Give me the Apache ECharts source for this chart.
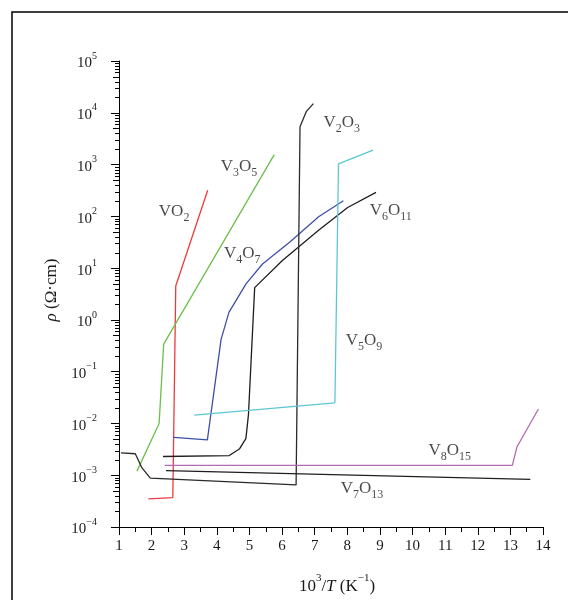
<!DOCTYPE html>
<html>
<head>
<meta charset="utf-8">
<script src="https://cdn.jsdelivr.net/npm/echarts@6/dist/echarts.min.js"></script>
<style>html,body{margin:0;padding:0;background:#fff}#c{width:568px;height:600px}</style>
</head>
<body>
<div id="c"></div>
<script>
// ---- data (x = 10^3/T in K^-1, y = resistivity in Ω·cm) ----
const vo2X   = [1.90, 2.65, 2.74, 3.72];
const vo2Y   = [3.5e-4, 3.7e-4, 4.5, 320];
const v3o5X  = [1.55, 2.23, 2.37, 5.76];
const v3o5Y  = [1.2e-3, 1.0e-2, 0.34, 1550];
const v4o7X  = [2.68, 3.71, 4.13, 4.37, 4.90, 5.40, 6.24, 7.12, 7.88];
const v4o7Y  = [5.4e-3, 4.8e-3, 0.42, 1.4, 5.0, 12, 32, 98, 200];
const v6o11X = [2.35, 4.38, 4.69, 4.89, 4.97, 5.16, 6.01, 7.12, 8.01, 8.88];
const v6o11Y = [2.3e-3, 2.4e-3, 3.2e-3, 5.1e-3, 1.5e-2, 4.2, 14, 54, 148, 290];
const v2o3X  = [1.06, 1.50, 1.70, 1.96, 6.43, 6.55, 6.74, 6.96];
const v2o3Y  = [2.7e-3, 2.6e-3, 1.4e-3, 8.8e-4, 6.5e-4, 5400, 10500, 15000];
const v5o9X  = [3.31, 7.62, 7.73, 8.79];
const v5o9Y  = [1.45e-2, 2.5e-2, 1030, 1900];
const v8o15X = [2.40, 13.06, 13.20, 13.86];
const v8o15Y = [1.55e-3, 1.55e-3, 3.5e-3, 1.9e-2];
const v7o13X = [2.44, 13.61];
const v7o13Y = [1.23e-3, 8.3e-4];

const xTicks = [1,2,3,4,5,6,7,8,9,10,11,12,13,14];
const yDecades = [-4,-3,-2,-1,0,1,2,3,4,5];

// curve label text and anchor (data units)
const labelNames = ['VO2','V3O5','V4O7','V2O3','V6O11','V5O9','V8O15','V7O13'];
const labelX = [2.69, 4.68, 4.78, 7.83, 9.33, 8.51, 11.14, 8.45];
const labelY = [115, 830, 17.8, 5900, 120, 0.37, 2.75e-3, 5.1e-4];

const serif = '"Liberation Serif","DejaVu Serif",serif';
const txt = '#1a1a1a';

function pts(xs, ys){ return xs.map((x,i)=>[x, ys[i]]); }
function lineSeries(name, xs, ys, color){
  return {name, type:'line', data: pts(xs, ys), showSymbol:false, symbol:'none',
    lineStyle:{color, width:1.3}, z:3, animation:false};
}
function chem(s){ return '{n|' + s.replace(/(\d+)/g, '}{s|$1}{n|') + '}'; }
const minorVals = [];
yDecades.slice(0,-1).forEach(d=>{ for(let m=2;m<=9;m++) minorVals.push([1, m*Math.pow(10,d), m]); });

const chart = echarts.init(document.getElementById('c'));
chart.setOption({
  animation:false,
  backgroundColor:'#fff',
  graphic:[{type:'rect', shape:{x:12,y:12,width:620,height:620}, style:{fill:'none', stroke:'#000', lineWidth:1.5}, silent:true}],
  grid:{left:119, right:25, top:61, bottom:73, containLabel:false},
  xAxis:{type:'value', min:xTicks[0], max:xTicks[xTicks.length-1], interval:1,
    axisLine:{show:true, onZero:false, lineStyle:{color:'#000', width:1}},
    axisTick:{show:true, length:8, lineStyle:{color:'#000'}},
    minorTick:{show:true, splitNumber:2, length:5, lineStyle:{color:'#000'}},
    splitLine:{show:false},
    axisLabel:{color:txt, fontFamily:serif, fontSize:15, margin:12},
    name:'{n|10}{sup|3}{n|/}{it|T}{n| (K}{sup|−1}{n|)}', nameLocation:'middle', nameGap:46,
    nameTextStyle:{padding:[0,0,0,12], rich:{
      n:{fontFamily:serif, fontSize:17, color:txt, lineHeight:22, verticalAlign:'bottom'},
      it:{fontFamily:serif, fontSize:17, fontStyle:'italic', color:txt, lineHeight:22, verticalAlign:'bottom'},
      sup:{fontFamily:serif, fontSize:11, color:txt, lineHeight:13, verticalAlign:'top'}
    }}
  },
  yAxis:{type:'log', logBase:10, min:1e-4, max:1e5, splitNumber:9,
    axisLine:{show:true, lineStyle:{color:'#000', width:1}},
    axisTick:{show:true, length:8, lineStyle:{color:'#000'}},
    splitLine:{show:false},
    axisLabel:{margin:22, formatter:(v)=>{const e=Math.round(Math.log10(v)); return '{b|10}{s|'+(e<0?'−'+(-e):e)+'}';},
      rich:{
        b:{fontFamily:serif, fontSize:15, color:txt, lineHeight:20, verticalAlign:'bottom'},
        s:{fontFamily:serif, fontSize:10, color:txt, lineHeight:12, verticalAlign:'top'}
      }},
    name:'{it|ρ}{n| (Ω·cm)}', nameLocation:'middle', nameGap:56, nameRotate:90,
    nameTextStyle:{padding:[0,0,0,8], rich:{
      n:{fontFamily:serif, fontSize:17, color:txt},
      it:{fontFamily:serif, fontSize:17, fontStyle:'italic', color:txt}
    }}
  },
  series:[
    lineSeries('VO2', vo2X, vo2Y, '#ee3a3a'),
    lineSeries('V3O5', v3o5X, v3o5Y, '#6cbf4a'),
    lineSeries('V4O7', v4o7X, v4o7Y, '#3d4fa6'),
    lineSeries('V6O11', v6o11X, v6o11Y, '#1e1e1e'),
    lineSeries('V2O3', v2o3X, v2o3Y, '#2a2a2a'),
    lineSeries('V5O9', v5o9X, v5o9Y, '#5cc6d6'),
    lineSeries('V8O15', v8o15X, v8o15Y, '#b36ab0'),
    lineSeries('V7O13', v7o13X, v7o13Y, '#1e1e1e'),
    {type:'custom', silent:true, clip:false, z:4, data:minorVals,
      renderItem:(params, api)=>{
        const p = api.coord([api.value(0), api.value(1)]);
        const len = api.value(2)===5 ? 6 : 4;
        return {type:'line', shape:{x1:p[0]-len, y1:Math.round(p[1])+0.5, x2:p[0], y2:Math.round(p[1])+0.5}, style:{stroke:'#000', lineWidth:1}};
      }},
    {type:'scatter', silent:true, symbolSize:0, z:5,
      data: labelNames.map((n,i)=>({value:[labelX[i], labelY[i]], label:{formatter:chem(n)}})),
      label:{show:true, position:'inside', align:'center', verticalAlign:'middle',
        rich:{
          n:{fontFamily:serif, fontSize:17, color:txt, lineHeight:21, verticalAlign:'top'},
          s:{fontFamily:serif, fontSize:12, color:txt, lineHeight:10, verticalAlign:'bottom'}
        }}
    }
  ]
});
</script>
</body>
</html>
